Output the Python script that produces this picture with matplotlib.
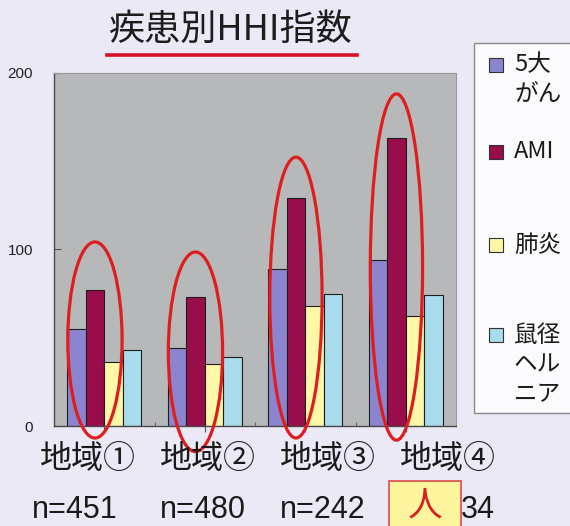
import matplotlib
matplotlib.use("Agg")
import matplotlib.pyplot as plt
from matplotlib.patches import Ellipse, Rectangle
from matplotlib.lines import Line2D
import numpy as np

plt.rcParams['font.family'] = ['Noto Sans CJK JP', 'DejaVu Sans']

# ---- data ----
regions = ["地域①", "地域②", "地域③", "地域④"]
# the last sample size is partly hidden behind a sticky note; only "34" shows
sample_sizes = ["n=451", "n=480", "n=242", "34"]
series_names = ["5大\nがん", "AMI", "肺炎", "鼠径\nヘル\nニア"]
cancer5 = [55, 44, 89, 94]
ami = [77, 73, 129, 163]
pneumonia = [36, 35, 68, 62]
hernia = [43, 39, 75, 74]
y_ticks = [0, 100, 200]

series_values = [cancer5, ami, pneumonia, hernia]
series_colors = ["#8b85cf", "#990d4b", "#fcf8a8", "#a8dbec"]

# red rings drawn around the AMI bars: (centre value, height, width in category units)
rings = [(48.7, 111, 0.54), (42, 113, 0.54), (72.7, 159, 0.52), (90, 196, 0.52)]

W, H = 570, 526
BG = "#ebe9f6"


def fx(px):
    return px / W


def fy(py):
    return 1 - py / H


fig = plt.figure(figsize=(W / 100, H / 100), dpi=100, facecolor=BG)
ax = fig.add_axes([fx(54), fy(426), 402 / W, 353.3 / H])
ax.set_facecolor("#b7b8ba")

n_series = len(series_values)
bar_w = 0.185
x = np.arange(len(regions))
for k, (vals, col) in enumerate(zip(series_values, series_colors)):
    ax.bar(x + (k - (n_series - 1) / 2) * bar_w, vals, width=bar_w,
           color=col, edgecolor="#1e1e1e", linewidth=0.8, zorder=2)

# rings around the AMI bar of each region
ami_x = x + (1 - (n_series - 1) / 2) * bar_w
for cx, (cy, h, w) in zip(ami_x, rings):
    ax.add_patch(Ellipse((cx, cy), w, h, fill=False, edgecolor="#e01d1d",
                         linewidth=2.3, clip_on=False, zorder=5))

ax.set_xlim(-0.5, 3.5)
ax.set_ylim(0, 200)

for side in ("left", "bottom"):
    ax.spines[side].set_color("#4a4a4a")
    ax.spines[side].set_linewidth(1.0)
for side in ("top", "right"):
    ax.spines[side].set_color("#9a9a9a")
    ax.spines[side].set_linewidth(0.8)

ax.set_yticks(y_ticks)
ax.set_yticklabels([str(v) for v in y_ticks])
ax.tick_params(axis="y", direction="in", length=5, pad=15, labelsize=11,
               color="#555555", labelcolor="#222222",
               labelfontfamily="Liberation Sans")
ax.set_xticks(x)
ax.set_xticklabels([])
ax.set_xticks(x[:-1] + 0.5, minor=True)
ax.tick_params(axis="x", which="major", direction="out", length=4, color="#555555")
ax.tick_params(axis="x", which="minor", direction="in", length=3, color="#555555")

# region names and sample sizes under the axis
label_left = [40, 160, 280, 400]
n_left = [32, 160, 280, 461]
for name, lx in zip(regions, label_left):
    fig.text(fx(lx), fy(459), name, fontsize=23, ha="left", va="center",
             color="#1a1a1a")
for s, lx in zip(sample_sizes, n_left):
    fig.text(fx(lx), fy(510), s, fontsize=22, ha="left", va="center",
             color="#1a1a1a", family="Liberation Sans")

# sticky note over the last sample size
fig.patches.append(Rectangle((fx(389), fy(530)), 72 / W, 49 / H,
                             transform=fig.transFigure, facecolor="#fdf59e",
                             edgecolor="#dd4a4a", linewidth=1.2, zorder=10))
fig.text(fx(425), fy(506), "人", fontsize=25, ha="center", va="center",
         color="#d42222", zorder=11)

# title with red underline
fig.text(fx(231), fy(30), "疾患別HHI指数", fontsize=26, ha="center",
         va="center", color="#1c1c1c")
fig.lines.append(Line2D([fx(107), fx(357)], [fy(55), fy(55)],
                        transform=fig.transFigure, color="#d8102a",
                        linewidth=2.6))

# legend panel
fig.patches.append(Rectangle((fx(474), fy(413)), 110 / W, 370 / H,
                             transform=fig.transFigure, facecolor="#fbfbfe",
                             edgecolor="#8a8a8a", linewidth=1.0))
entry_y = [65, 152, 245, 335]
for name, col, ey in zip(series_names, series_colors, entry_y):
    fig.patches.append(Rectangle((fx(489), fy(ey + 7)), 14 / W, 14 / H,
                                 transform=fig.transFigure, facecolor=col,
                                 edgecolor="#333333", linewidth=0.8))
    for j, line in enumerate(name.split("\n")):
        fig.text(fx(514), fy(ey + 30 * j), line, fontsize=17, ha="left",
                 va="center", color="#1a1a1a")

fig.savefig("out.png", dpi=100, facecolor=BG)
